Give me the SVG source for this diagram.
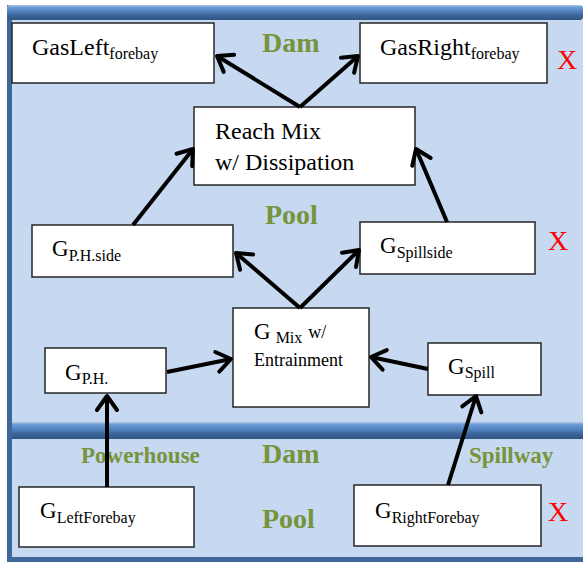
<svg xmlns="http://www.w3.org/2000/svg" width="583" height="562" viewBox="0 0 583 562">
  <defs>
    <linearGradient id="bar" x1="0" y1="0" x2="0" y2="1">
      <stop offset="0" stop-color="#b3c9e6"/>
      <stop offset="0.15" stop-color="#6d9bd6"/>
      <stop offset="0.45" stop-color="#4f81bd"/>
      <stop offset="0.7" stop-color="#3c6496"/>
      <stop offset="1" stop-color="#2f5585"/>
    </linearGradient>
    <marker id="arr" markerUnits="userSpaceOnUse" viewBox="-20 -14 26 28" refX="0" refY="0" markerWidth="26" markerHeight="28" orient="auto">
      <path d="M-14,-10 L0,0 L-14,10" fill="none" stroke="#000" stroke-width="4" stroke-linejoin="round" stroke-linecap="round"/>
    </marker>
  </defs>
  <style>
    .box { fill: #ffffff; stroke: #262626; stroke-width: 1.5; }
    .lbl { font-weight: bold; fill: #77933c; }
    .x { fill: #ff0000; }
    .conn line { stroke: #000; stroke-width: 4; marker-end: url(#arr); }
  </style>
  <rect x="0" y="0" width="583" height="562" fill="#ffffff"/>
  <g id="background">
    <rect x="12" y="20" width="571" height="537" fill="#c6d9f1"/>
    <rect x="7" y="5" width="5" height="557" fill="#3f679a"/>
    <rect x="7" y="557" width="576" height="5" fill="#3f679a"/>
    <rect x="7" y="5" width="576" height="15" rx="3" fill="url(#bar)"/>
    <rect x="12" y="422" width="571" height="17" fill="url(#bar)"/>
  </g>
  <g id="labels">
    <text class="lbl" font-family="Liberation Serif, serif" x="262" y="52" font-size="28">Dam</text>
    <text class="lbl" font-family="Liberation Serif, serif" x="265" y="224" font-size="28">Pool</text>
    <text class="lbl" font-family="Liberation Serif, serif" x="81" y="463" font-size="23">Powerhouse</text>
    <text class="lbl" font-family="Liberation Serif, serif" x="262" y="463" font-size="28">Dam</text>
    <text class="lbl" font-family="Liberation Serif, serif" x="469" y="463" font-size="23">Spillway</text>
    <text class="lbl" font-family="Liberation Serif, serif" x="262" y="528" font-size="28">Pool</text>
    <text class="x" font-family="Liberation Serif, serif" font-size="28" x="557" y="69">X</text>
    <text class="x" font-family="Liberation Serif, serif" font-size="28" x="548" y="250">X</text>
    <text class="x" font-family="Liberation Serif, serif" font-size="28" x="548" y="521">X</text>
  </g>
  <g id="gasleft">
    <rect class="box" x="12" y="23" width="202" height="60"/>
    <text font-family="Liberation Serif, serif" x="32" y="55" font-size="24">GasLeft<tspan font-size="16" dy="4">forebay</tspan></text>
  </g>
  <g id="gasright">
    <rect class="box" x="360" y="23" width="187" height="60"/>
    <text font-family="Liberation Serif, serif" x="380" y="55" font-size="24">GasRight<tspan font-size="16" dy="4">forebay</tspan></text>
  </g>
  <g id="reachmix">
    <rect class="box" x="194" y="107" width="221" height="78"/>
    <text font-family="Liberation Serif, serif" x="215" y="139" font-size="24">Reach Mix</text>
    <text font-family="Liberation Serif, serif" x="215" y="170" font-size="24">w/ Dissipation</text>
  </g>
  <g id="gphside">
    <rect class="box" x="32" y="225" width="201" height="52"/>
    <text font-family="Liberation Serif, serif" x="52" y="256" font-size="23">G<tspan font-size="16" dy="5">P.H.side</tspan></text>
  </g>
  <g id="gspillside">
    <rect class="box" x="360" y="222" width="175" height="52"/>
    <text font-family="Liberation Serif, serif" x="380" y="253" font-size="23">G<tspan font-size="16" dy="5">Spillside</tspan></text>
  </g>
  <g id="gmix">
    <rect class="box" x="233" y="308" width="136" height="99"/>
    <text font-family="Liberation Serif, serif" x="254" y="339" font-size="23">G<tspan font-size="16" dx="5" dy="4">Mix</tspan><tspan font-size="18" dx="6" dy="-5">w/</tspan></text>
    <text font-family="Liberation Serif, serif" x="254" y="366" font-size="18">Entrainment</text>
  </g>
  <g id="gph">
    <rect class="box" x="45" y="348" width="121" height="45"/>
    <text font-family="Liberation Serif, serif" x="65" y="380" font-size="23">G<tspan font-size="16" dy="4">P.H.</tspan></text>
  </g>
  <g id="gspill">
    <rect class="box" x="428" y="343" width="113" height="52"/>
    <text font-family="Liberation Serif, serif" x="448" y="374" font-size="23">G<tspan font-size="16" dy="4">Spill</tspan></text>
  </g>
  <g id="gleftforebay">
    <rect class="box" x="19" y="487" width="175" height="60"/>
    <text font-family="Liberation Serif, serif" x="40" y="518" font-size="23">G<tspan font-size="16" dy="5">LeftForebay</tspan></text>
  </g>
  <g id="grightforebay">
    <rect class="box" x="354" y="485" width="187" height="61"/>
    <text font-family="Liberation Serif, serif" x="375" y="518" font-size="23">G<tspan font-size="16" dy="5">RightForebay</tspan></text>
  </g>
  <g id="connectors" class="conn">
    <line x1="300" y1="107" x2="217" y2="56"/>
    <line x1="300" y1="107" x2="358" y2="56"/>
    <line x1="133" y1="225" x2="193" y2="149"/>
    <line x1="447" y1="222" x2="416" y2="149"/>
    <line x1="300" y1="308" x2="236" y2="253"/>
    <line x1="300" y1="308" x2="359" y2="250"/>
    <line x1="167" y1="372" x2="231" y2="359"/>
    <line x1="428" y1="369" x2="371" y2="357"/>
    <line x1="107" y1="487" x2="107" y2="396"/>
    <line x1="448" y1="485" x2="476" y2="396"/>
  </g>
</svg>
